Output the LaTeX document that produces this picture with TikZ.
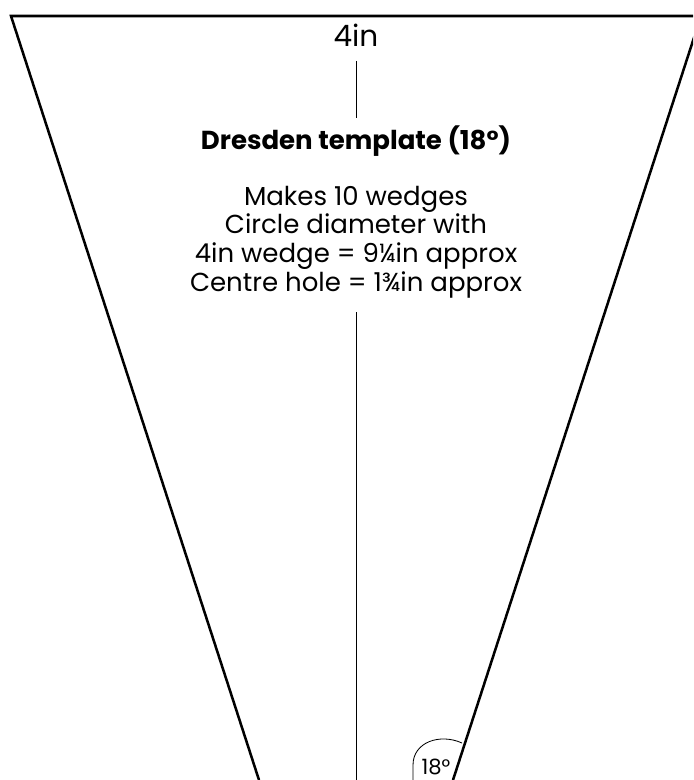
\documentclass[tikz,border=0pt]{standalone}
\usepackage{fontspec}
\setmainfont{Poppins}
\tikzset{
  wedgeline/.style={line width=1.8pt, line join=miter},
  midline/.style={line width=0.7pt},
  label/.style={font=\fontsize{18.5}{20.5}\selectfont, inner sep=0pt, align=center}
}
\begin{document}
\begin{tikzpicture}[x=0.025cm,y=-0.025cm]
  \useasboundingbox (0,0) rectangle (693,780);
  \clip (0,0) rectangle (693,780);

  % la cuña
  \coordinate (tl) at (11,16);
  \coordinate (tr) at (701,16);
  \coordinate (bl) at (259,780);
  \coordinate (br) at (453,780);
  \draw[wedgeline] (bl) -- (tl) -- (tr) -- (br);

  % textos
  \node[label, font=\fontsize{21}{21}\selectfont] (width) at (356,35) {4in};
  \node[label, font=\fontsize{18.5}{18.5}\selectfont\bfseries] (title) at (356,141) {Dresden template (18°)};
  \node[label] (info) at (356,242)
    {Makes 10 wedges\\Circle diameter with\\4in wedge = 9¼in approx\\Centre hole = 1¾in approx};

  % línea central
  \coordinate (topmid) at (356,61);
  \coordinate (botmid) at (356,780);
  \draw[midline] (topmid) -- (356,118);
  \draw[midline] (356,312) -- (botmid);

  % ángulo
  \node[label, font=\fontsize{15}{15}\selectfont] (angle) at (436,767) {18°};
  \draw[line width=0.6pt] (462,743) .. controls (440,733) and (413,742) .. (413,765) -- (413,782);
\end{tikzpicture}
\end{document}
